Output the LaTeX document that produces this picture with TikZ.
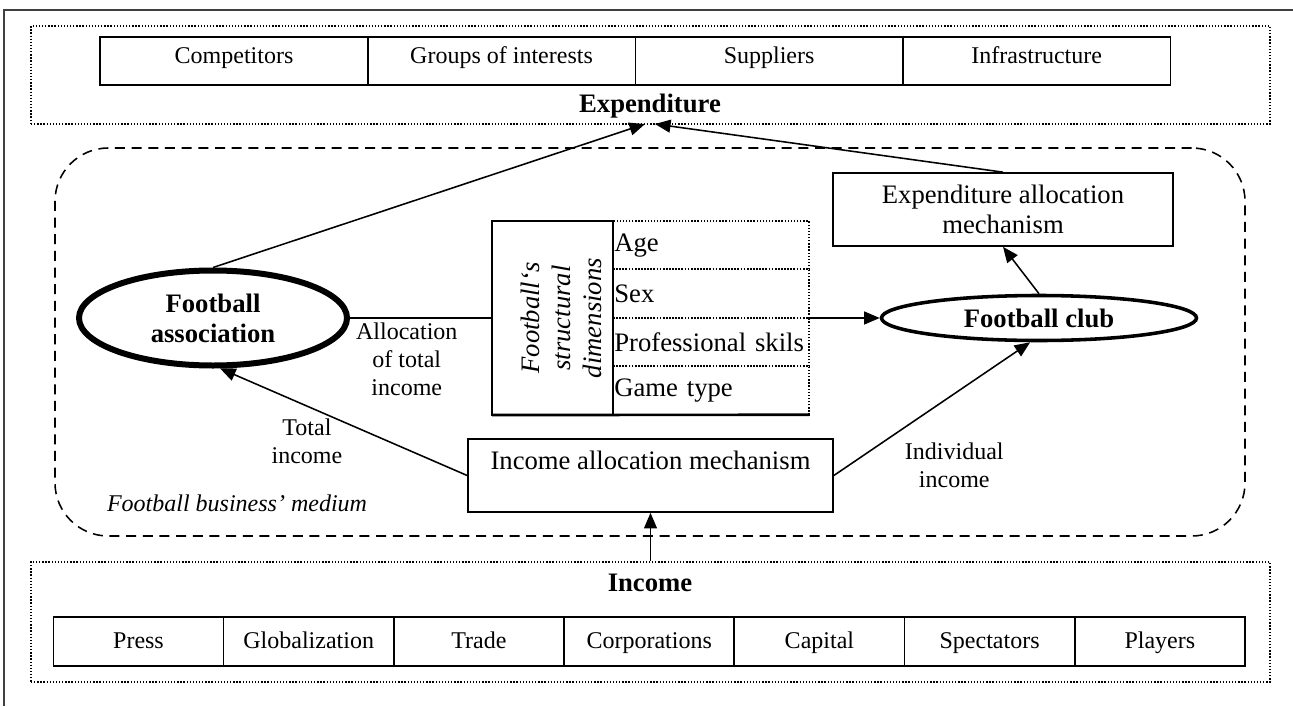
\documentclass[tikz,border=0pt]{standalone}
\usepackage{fontspec}
\setmainfont{Liberation Serif}
\usetikzlibrary{shapes.geometric, arrows.meta, positioning}

\begin{document}
\begin{tikzpicture}[
    x=0.45pt, y=-0.45pt,
    link/.style={line width=0.7pt},
    arrow/.style={link, -{Triangle[length=7pt, width=5.8pt]}},
    txt/.style={font=\fontsize{10.8}{12.5}\selectfont, align=center, inner sep=0pt},
    cell/.style={draw, line width=0.75pt, outer sep=0pt, inner sep=0pt, text height=7.5pt, text depth=5.3pt, font=\fontsize{10.8}{13}\selectfont},
    top_cell/.style={cell, minimum width=120.4pt, minimum height=21.6pt},
    bot_cell/.style={cell, text height=9.7pt, text depth=3.1pt, minimum width=76.6pt, minimum height=22pt},
    group_box/.style={draw, line width=0.9pt, dash pattern=on 0.6pt off 0.8pt, minimum width=557.5pt},
    title/.style={font=\fontsize{12}{13.5}\selectfont\bfseries, inner sep=0pt},
    mech/.style={draw, line width=0.75pt, align=center, font=\fontsize{12}{13.5}\selectfont},
    actor/.style={ellipse, draw, inner sep=0pt, align=center, font=\fontsize{12}{13.5}\selectfont\bfseries},
    dim_cell/.style={draw, line width=0.9pt, dash pattern=on 0.6pt off 0.8pt, outer sep=0pt, minimum height=21.8pt, text width=87pt, inner xsep=0.6pt, inner ysep=0pt, align=left, font=\fontsize{12}{13.5}\selectfont}
]
    \useasboundingbox (0,0) rectangle (1293,706);
    \draw[line width=0.9pt, black!75] (1293,10) -- (4,10) -- (4,706);

    % Expenditure side
    \node[group_box, minimum height=44.1pt] (exp_box) at (650.5,75) {};
    \node[top_cell] (competitors) at (234,61) {Competitors};
    \node[top_cell, right=0pt of competitors] (interests) {Groups of interests};
    \node[top_cell, right=0pt of interests] (suppliers) {Suppliers};
    \node[top_cell, right=0pt of suppliers] (infra) {Infrastructure};
    \node[title] (exp_title) at (650,106) {Expenditure};
    \coordinate (exp_l) at (645,124);
    \coordinate (exp_r) at (655,124);

    % Football business medium
    \node[draw, link, dash pattern=on 4.5pt off 3pt, rounded corners=24pt, minimum width=535.5pt, minimum height=174.6pt] (medium) at (650,342) {};
    \node[txt, font=\fontsize{10.8}{12.5}\selectfont\itshape] (medium_lbl) at (237,503) {Football business’ medium};

    \node[actor, line width=2.7pt, minimum width=120.6pt, minimum height=42.75pt] (assoc) at (213,318) {Football\\association};
    \node[actor, line width=1.6pt, minimum width=141.75pt, minimum height=20.25pt] (club) at (1039,318) {Football club};

    % Structural dimensions
    \node[minimum width=142.65pt, minimum height=87.3pt, inner sep=0pt, outer sep=0pt] (dims) at (650.5,318) {};
    \node[draw, line width=1.2pt, outer sep=0pt, minimum width=54.45pt, minimum height=87.3pt, anchor=north west] (dims_left) at (492,221) {};
    \node[rotate=90, align=center, inner sep=0pt, font=\fontsize{12}{13.9}\selectfont\itshape] (dims_txt) at (561,318) {Football‘s\\structural\\dimensions};
    \node[dim_cell, anchor=north west] (age) at (613,221) {Age};
    \node[dim_cell, below=0pt of age] (sex) {Sex};
    \node[dim_cell, below=0pt of sex] (skills) {Professional skils};
    \node[dim_cell, below=0pt of skills] (game) {Game type};
    \draw[line width=1.2pt] (dims_left.south west) -- (game.south east);

    \node[mech, minimum width=153pt, minimum height=32.85pt] (exp_mech) at (1003,209.5) {Expenditure allocation\\mechanism};
    \node[mech, minimum width=164.25pt, minimum height=32.85pt] (inc_mech) at (650.5,475.5) {Income allocation mechanism\\~};

    % Income side
    \node[group_box, minimum height=54pt] (inc_box) at (650.5,622) {};
    \node[title] (inc_title) at (650,583) {Income};
    \node[bot_cell] (press) at (138.5,641.5) {Press};
    \node[bot_cell, right=0pt of press] (global) {Globalization};
    \node[bot_cell, right=0pt of global] (trade) {Trade};
    \node[bot_cell, right=0pt of trade] (corp) {Corporations};
    \node[bot_cell, right=0pt of corp] (capital) {Capital};
    \node[bot_cell, right=0pt of capital] (spect) {Spectators};
    \node[bot_cell, right=0pt of spect] (players) {Players};

    % Flows
    \draw[arrow] (assoc.north) -- (exp_l);
    \draw[arrow] (exp_mech.north) -- (exp_r);
    \draw[arrow] (club.north) -- (exp_mech.south);
    \draw[link] (assoc.east) -- node[txt, pos=0.4, below=2pt] (alloc_lbl) {Allocation\\of total\\income} (dims.west);
    \draw[arrow] (dims.east) -- (club.west);
    \draw[arrow] (inc_box.north) -- (inc_mech.south);
    \draw[arrow] (inc_mech.west) -- node[txt, pos=0.6, anchor=north, xshift=-5.4pt, yshift=-3pt] (total_lbl) {Total\\income} (assoc.-82);
    \draw[arrow] (inc_mech.east) -- node[txt, pos=0.5, anchor=north, xshift=10pt, yshift=-15pt] (indiv_lbl) {Individual\\income} (club.-110);

\end{tikzpicture}
\end{document}
